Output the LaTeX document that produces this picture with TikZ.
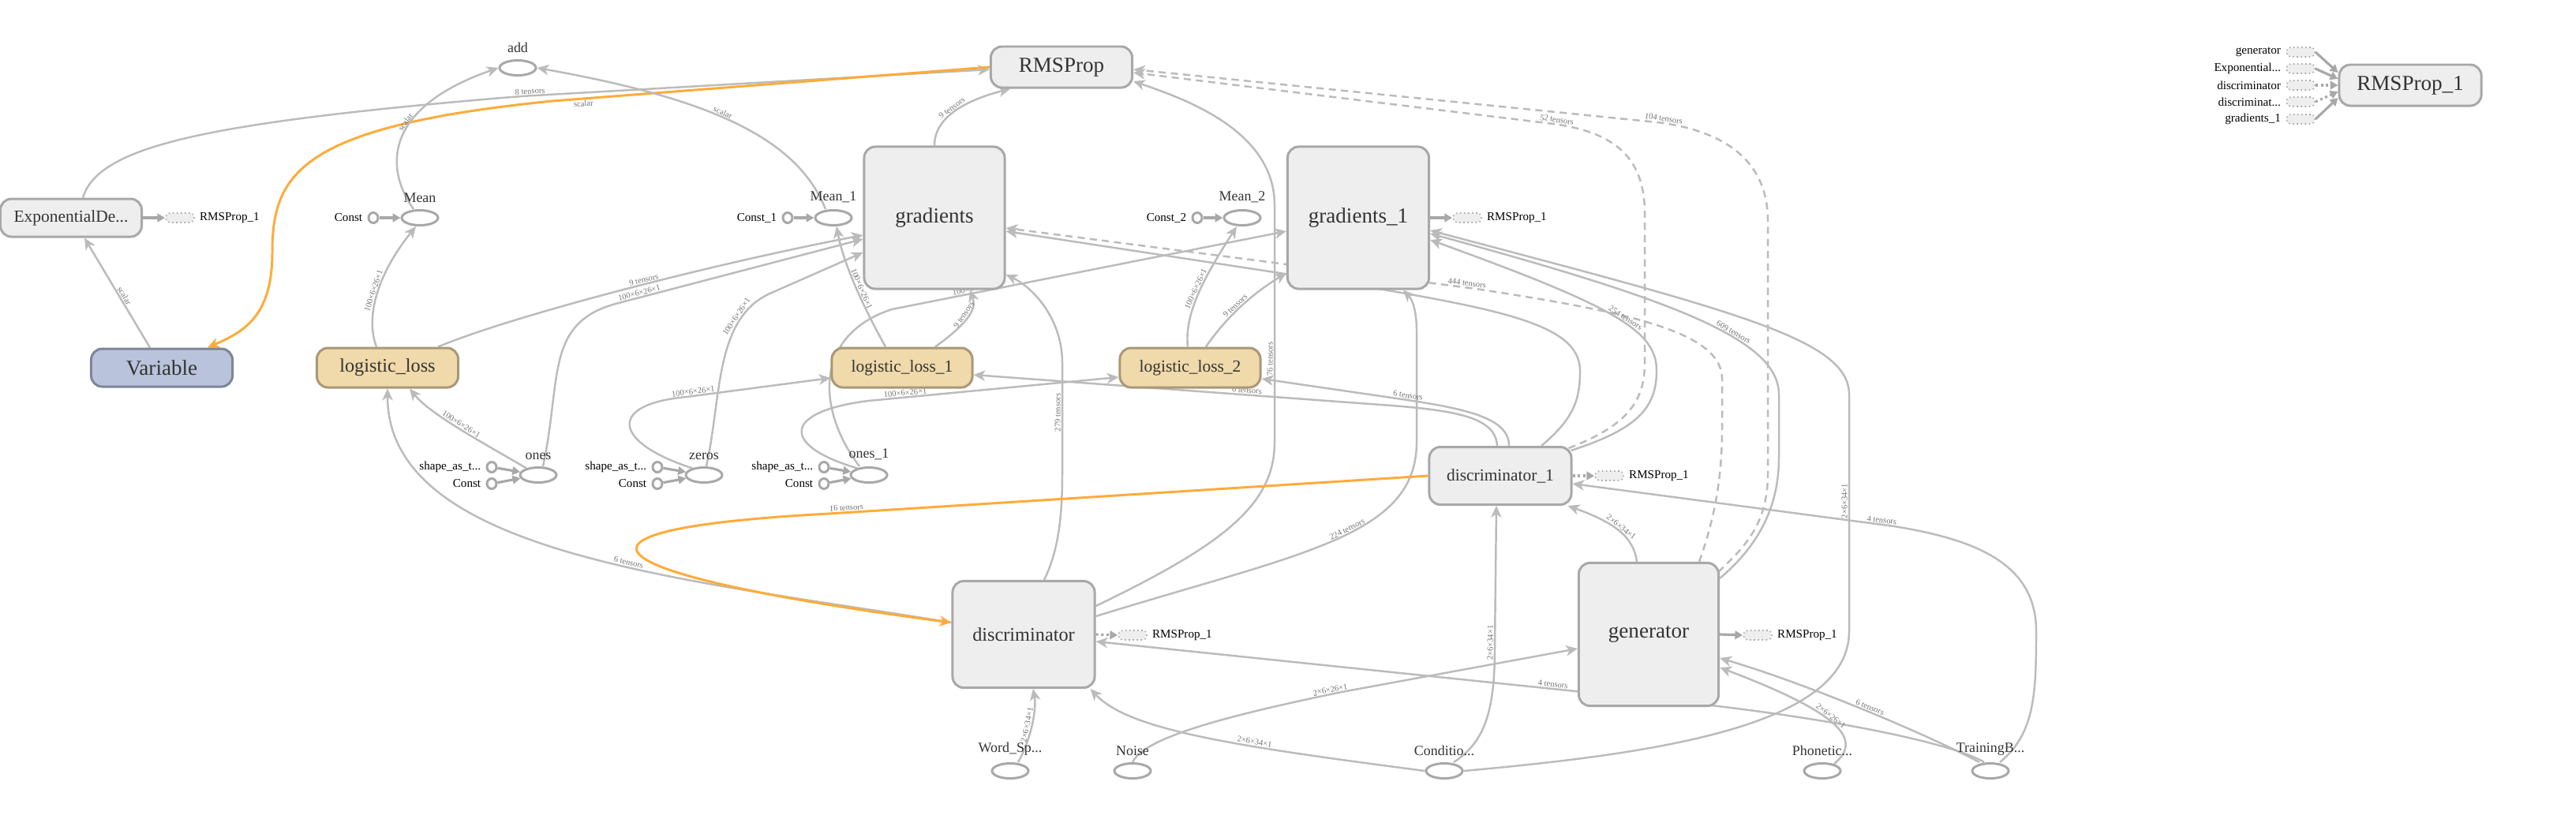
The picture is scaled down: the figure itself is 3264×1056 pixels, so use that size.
\documentclass[tikz,border=0pt]{standalone}
\usepackage{fontspec}
\setmainfont{Liberation Serif}
\usetikzlibrary{calc,shapes.geometric,backgrounds,arrows.meta}

\definecolor{opfill}{HTML}{EEEEEE}
\definecolor{opline}{HTML}{A8A8A8}
\definecolor{wire}{HTML}{BBBBBB}
\definecolor{varfill}{HTML}{B9C3DB}
\definecolor{varline}{HTML}{7E8597}
\definecolor{lossfill}{HTML}{F0D9AA}
\definecolor{lossline}{HTML}{A99878}
\definecolor{refwire}{HTML}{FFAB3A}
\definecolor{optext}{HTML}{333333}

\newcommand\fbig{\fontsize{7.7}{8}\selectfont}
\newcommand\fmid{\fontsize{6.9}{7}\selectfont}
\newcommand\fsml{\fontsize{6.1}{7}\selectfont}
\newcommand\fell{\fontsize{5.1}{6}\selectfont}
\newcommand\fstub{\fontsize{4.3}{5}\selectfont}
\newcommand\fedge{\fontsize{3}{3.2}\selectfont}
\newcommand\tdots{...}

\tikzset{
  op/.style={draw=opline, fill=opfill, line width=0.85pt, rounded corners=4pt, text=optext, inner sep=0pt},
  varop/.style={op, draw=varline, fill=varfill},
  lossop/.style={op, draw=lossline, fill=lossfill},
  ellip/.style={ellipse, draw=opline, fill=white, line width=0.85pt, minimum width=0.46cm, minimum height=0.19cm, inner sep=0pt},
  konst/.style={ellipse, draw=opline, fill=white, line width=0.85pt, minimum width=0.12cm, minimum height=0.13cm, inner sep=0pt},
  stub/.style={draw=opline, densely dotted, fill=opfill, line width=0.45pt, rounded corners=1.5pt, minimum width=0.36cm, minimum height=0.12cm, inner sep=0pt},
  ellab/.style={font=\fell, text=optext, inner sep=0pt, label distance=2.2pt},
  stublab/.style={font=\fstub, text=black, inner sep=0pt, label distance=1.6pt},
  flow/.style={draw=wire, line width=0.7pt, -{Stealth[length=4.2pt,width=3.8pt,inset=1.2pt]}},
  ctrl/.style={flow, dash pattern=on 2.6pt off 1.8pt},
  refflow/.style={flow, draw=refwire, line width=0.85pt},
  feed/.style={draw=opline, line width=0.9pt, -{Triangle[length=2.8pt,width=3pt]}},
  feeddot/.style={feed, densely dotted},
  elab/.style={font=\fedge, text=black!55, sloped, anchor=south, inner sep=0.3pt},
}

\begin{document}
\begin{tikzpicture}[x=0.01cm, y=-0.01cm]
	\useasboundingbox (0,0) rectangle (3264,1056);

	% main ops
	\node[op, minimum width=1.79cm, minimum height=0.48cm, font=\fsml] (expd) at (90,276) {ExponentialDe...};
	\node[varop, minimum width=1.79cm, minimum height=0.48cm, font=\fbig] (var) at (205,466) {Variable};
	\node[lossop, minimum width=1.79cm, minimum height=0.50cm, font=\fmid] (loss) at (491,466) {logistic\_loss};
	\node[lossop, minimum width=1.78cm, minimum height=0.50cm, font=\fsml] (loss1) at (1143,466) {logistic\_loss\_1};
	\node[lossop, minimum width=1.78cm, minimum height=0.50cm, font=\fsml] (loss2) at (1508,466) {logistic\_loss\_2};
	\node[op, minimum width=1.79cm, minimum height=0.52cm, font=\fbig] (rms) at (1345,85) {RMSProp};
	\node[op, minimum width=1.78cm, minimum height=1.80cm, font=\fbig] (grad) at (1184,276) {gradients};
	\node[op, minimum width=1.79cm, minimum height=1.80cm, font=\fbig] (grad1) at (1721,276) {gradients\_1};
	\node[op, minimum width=1.80cm, minimum height=0.73cm, font=\fsml] (disc1) at (1901,603) {discriminator\_1};
	\node[op, minimum width=1.80cm, minimum height=1.35cm, font=\fmid] (disc) at (1297,804) {discriminator};
	\node[op, minimum width=1.77cm, minimum height=1.81cm, font=\fbig] (gen) at (2089,804) {generator};
	\node[op, minimum width=1.80cm, minimum height=0.52cm, font=\fbig] (rms1) at (3054,108) {RMSProp\_1};

	% small ops
	\foreach \nm/\lab/\x/\y in {add/add/656/86, mean/Mean/532/276, mean1/Mean\_1/1056/276, mean2/Mean\_2/1574/276,
		ones/ones/682/602, zeros/zeros/892/602, ones1/ones\_1/1101/602,
		word/Word\_Sp\tdots/1280/977, noise/Noise/1435/977, cond/Conditio\tdots/1830/977,
		phon/Phonetic\tdots/2309/977, train/TrainingB\tdots/2522/977}
	\node[ellip, label={[ellab]90:\lab}] (\nm) at (\x,\y) {};
	\foreach \nm/\lab/\x/\y in {c0/Const/473/276, c1/Const\_1/998/276, c2/Const\_2/1517/276,
		s0/shape\_as\_t\tdots/623/592, k0/Const/623/613, s1/shape\_as\_t\tdots/833/592, k1/Const/833/613,
		s2/shape\_as\_t\tdots/1044/592, k2/Const/1044/613}
	\node[konst, label={[stublab]180:\lab}] (\nm) at (\x,\y) {};
	\foreach \a/\b in {c0/mean, c1/mean1, c2/mean2, s0/ones, k0/ones, s1/zeros, k1/zeros, s2/ones1, k2/ones1}
	\draw[feed] (\a) -- (\b);

	% RMSProp_1 stubs
	\foreach \nm/\x/\y in {st0/228/276, st1/1859/276, st2/2039/603, st3/1435/805, st4/2227/805}
	\node[stub, label={[stublab]0:RMSProp\_1}] (\nm) at (\x,\y) {};
	\draw[feed] (expd.east) -- (st0.west);
	\draw[feed] (grad1.east) -- (st1.west);
	\draw[feeddot] (disc1.east) -- (st2.west);
	\draw[feeddot] (disc.east) -- (st3.west);
	\draw[feed] (gen.east) -- (st4.west);

	\foreach \nm/\lab/\y in {in1/generator/66, in2/Exponential\tdots/87, in3/discriminator/108, in4/discriminat\tdots/129, in5/gradients\_1/151}
	\node[stub, label={[stublab]180:\lab}] (\nm) at (2915,\y) {};
	\foreach \nm/\dy/\sty in {in1/-16/feed, in2/-8/feed, in3/0/feeddot, in4/8/feeddot, in5/16/feed}
	\draw[\sty] (\nm.east) -- ($(rms1.west)+(0,\dy)$);

	\begin{scope}[on background layer]
		% left part
		\draw[flow] ($(var.north)+(-15,0)$) -- node[elab,pos=0.45]{scalar} ($(expd.south)+(17,0)$);
		\draw[flow] ($(expd.north)+(15,0)$) .. controls (125,185) and (260,155) .. (660,122)
			-- node[elab,pos=0.02]{8 tensors} ($(rms.west)+(0,3)$);
		\draw[refflow] (rms.west) -- node[elab,pos=0.93,anchor=north]{scalar} (700,128)
			.. controls (380,160) and (345,220) .. (345,320)
			.. controls (345,400) and (310,420) .. ($(var.north)+(58,0)$);
		\draw[flow] ($(mean.north)+(-8,0)$) .. controls (485,210) and (490,135) .. node[elab,pos=0.58]{scalar} (add.west);
		\draw[flow] ($(mean1.north)+(-10,0)$) .. controls (1010,175) and (900,125) .. node[elab,pos=0.55]{scalar} (add.east);
		\draw[flow] ($(loss.north)+(-14,0)$) .. controls (462,400) and (480,345) .. node[elab,pos=0.5]{100×6×26×1} ($(mean.south)+(-5,0)$);
		\draw[flow] ($(loss.north)+(64,0)$) .. controls (650,400) and (900,335) .. node[elab,pos=0.55]{9 tensors} ($(grad.west)+(0,22)$);
		\draw[flow] (ones.150) .. controls (610,560) and (545,525) .. node[elab,pos=0.5]{100×6×26×1} ($(loss.south)+(28,0)$);
		\draw[flow] ($(disc.west)+(0,-15)$) .. controls (880,735) and (491,705) .. node[elab,pos=0.42]{6 tensors} (loss.south);
		\draw[flow] ($(ones.north)+(6,0)$) .. controls (712,480) and (690,410) .. (780,385)
			-- node[elab,pos=0.1]{100×6×26×1} ($(grad.west)+(0,27)$);
		\draw[flow] (zeros.150) .. controls (775,560) and (770,512) .. (870,503)
			-- node[elab,pos=0.05]{100×6×26×1} ($(loss1.west)+(0,13)$);
		\draw[flow] ($(zeros.north)+(3,0)$) .. controls (915,500) and (905,400) .. node[elab,pos=0.75]{100×6×26×1} (980,370)
			-- ($(grad.west)+(0,44)$);
		\draw[flow] (ones1.150) .. controls (990,565) and (990,522) .. (1100,508)
			-- node[elab,pos=0.15]{100×6×26×1} ($(loss2.west)+(0,12)$);
		\draw[flow] ($(ones1.north)+(-12,0)$) .. controls (1035,520) and (1030,425) .. (1130,392)
			-- node[elab,pos=0.21]{100×6×26×1} ($(grad1.west)+(0,17)$);

		% middle part
		\draw[flow] ($(loss1.north)+(-21,0)$) .. controls (1100,400) and (1070,340) .. node[elab,pos=0.5]{100×6×26×1} ($(mean1.south)+(4,0)$);
		\draw[flow] ($(loss1.north)+(42,0)$) .. controls (1240,400) and (1235,385) .. node[elab,pos=0.4]{9 tensors} ($(grad.south)+(45,0)$);
		\draw[flow] ($(loss2.north)+(-3,0)$) .. controls (1500,395) and (1530,345) .. node[elab,pos=0.5]{100×6×26×1} ($(mean2.south)+(-7,0)$);
		\draw[flow] ($(loss2.north)+(20,0)$) .. controls (1555,400) and (1590,370) .. node[elab,pos=0.45]{9 tensors} ($(grad1.west)+(0,70)$);
		\draw[flow] (grad.north) .. controls (1184,150) and (1220,128) .. node[elab,pos=0.5]{9 tensors} ($(rms.south)+(-65,0)$);
		\draw[flow] ($(disc.east)+(0,-36)$) .. controls (1550,690) and (1615,640) .. (1615,560)
			-- node[elab,pos=0.35]{76 tensors} (1615,260)
			.. controls (1615,165) and (1500,125) .. ($(rms.east)+(0,18)$);
		\draw[flow] ($(disc.east)+(0,-23)$) .. controls (1650,700) and (1795,680) .. node[elab,pos=0.55]{224 tensors} (1795,560)
			-- (1795,420) .. controls (1795,395) and (1790,380) .. ($(grad1.south)+(57,0)$);
		\draw[flow] ($(disc.north)+(26,0)$) .. controls (1340,700) and (1346,660) .. (1346,600)
			-- node[elab,pos=0.55]{279 tensors} (1346,460)
			.. controls (1346,405) and (1310,365) .. ($(grad.east)+(0,72)$);
		\draw[flow] ($(disc1.north)+(52,0)$) .. controls (1995,530) and (2002,505) .. (2002,470)
			.. controls (2002,410) and (1900,392) .. (1700,358) -- ($(grad.east)+(0,17)$);
		\draw[flow] ($(disc1.north)+(-4,0)$) .. controls (1895,530) and (1850,520) .. (1750,513)
			-- node[elab,pos=0.33]{6 tensors} ($(loss1.east)+(0,9)$);
		\draw[flow] ($(disc1.north)+(11,0)$) .. controls (1912,530) and (1860,518) .. node[elab,pos=0.95]{6 tensors} (1770,505)
			-- ($(loss2.east)+(0,14)$);
		\draw[refflow] (disc1.west) -- node[elab,pos=0.97]{16 tensors} (1050,651)
			.. controls (660,672) and (760,730) .. ($(disc.west)+(0,-15)$);

		% control dependencies
		\draw[ctrl] ($(gen.north)+(64,0)$) .. controls (2175,650) and (2182,600) .. (2182,540) -- (2182,480)
			.. controls (2182,420) and (2060,395) .. (1870,366)
			-- node[elab,pos=0.02]{444 tensors} ($(grad.east)+(0,13)$);
		\draw[ctrl] ($(disc1.north east)+(-5,3)$) .. controls (2060,540) and (2084,510) .. (2084,460) -- (2084,270)
			.. controls (2084,195) and (2040,165) .. node[elab,pos=0.95]{52 tensors} (1960,156)
			-- ($(rms.east)+(0,7)$);
		\draw[ctrl] ($(gen.north east)+(-2,13)$) .. controls (2215,690) and (2240,660) .. (2240,600) -- (2240,280)
			.. controls (2240,200) and (2180,165) .. node[elab,pos=0.97]{104 tensors} (2100,155)
			-- ($(rms.east)+(0,3)$);

		% right part
		\draw[flow] ($(disc1.north east)+(-2,6)$) .. controls (2070,545) and (2099,520) .. (2099,470)
			.. controls (2099,420) and (2050,390) .. node[elab,pos=0.45]{254 tensors} ($(grad1.east)+(0,28)$);
		\draw[flow] ($(gen.north east)+(0,21)$) .. controls (2230,690) and (2254,640) .. (2254,580) -- (2254,500)
			.. controls (2254,430) and (2120,380) .. node[elab,pos=0.38]{609 tensors} ($(grad1.east)+(0,20)$);
		\draw[flow] (cond.east) .. controls (2100,955) and (2343,920) .. (2343,800)
			-- node[elab,pos=0.55]{2×6×34×1} (2343,500)
			.. controls (2343,430) and (2200,395) .. ($(grad1.east)+(0,16)$);
		\draw[flow] ($(gen.north)+(-15,0)$) .. controls (2070,680) and (2045,662) .. node[elab,pos=0.5]{2×6×34×1} ($(disc1.south east)+(-6,0)$);
		\draw[flow] ($(cond.north)+(12,0)$) .. controls (1882,940) and (1894,900) .. (1894,820)
			-- node[elab,pos=0.03]{2×6×34×1} ($(disc1.south)+(-5,0)$);
		\draw[flow] ($(train.north)+(12,0)$) .. controls (2578,930) and (2580,880) .. (2580,800)
			.. controls (2580,715) and (2505,684) .. (2400,667)
			-- node[elab,pos=0.04]{4 tensors} ($(disc1.east)+(0,10)$);

		% bottom inputs
		\draw[flow] ($(word.north)+(10,0)$) .. controls (1305,940) and (1314,900) .. node[elab,pos=0.5]{2×6×34×1} ($(disc.south)+(12,0)$);
		\draw[flow] (cond.west) .. controls (1560,945) and (1430,925) .. node[elab,pos=0.35]{2×6×34×1} ($(disc.south east)+(-7,0)$);
		\draw[flow] (noise.north) .. controls (1450,935) and (1550,908) .. node[elab,pos=0.97]{2×6×26×1} (1700,877)
			-- ($(gen.west)+(0,18)$);
		\draw[flow] ($(train.north)+(-8,0)$) .. controls (2480,945) and (2350,915) .. (2160,893)
			-- node[elab,pos=0.25]{4 tensors} ($(disc.east)+(0,9)$);
		\draw[flow] ($(train.north)+(-14,0)$) .. controls (2450,935) and (2300,870) .. node[elab,pos=0.5]{6 tensors} ($(gen.east)+(0,30)$);
		\draw[flow] ($(phon.north)+(15,2)$) .. controls (2360,938) and (2335,905) .. node[elab,pos=0.55]{2×6×26×1} ($(gen.east)+(0,42)$);
	\end{scope}
\end{tikzpicture}
\end{document}
